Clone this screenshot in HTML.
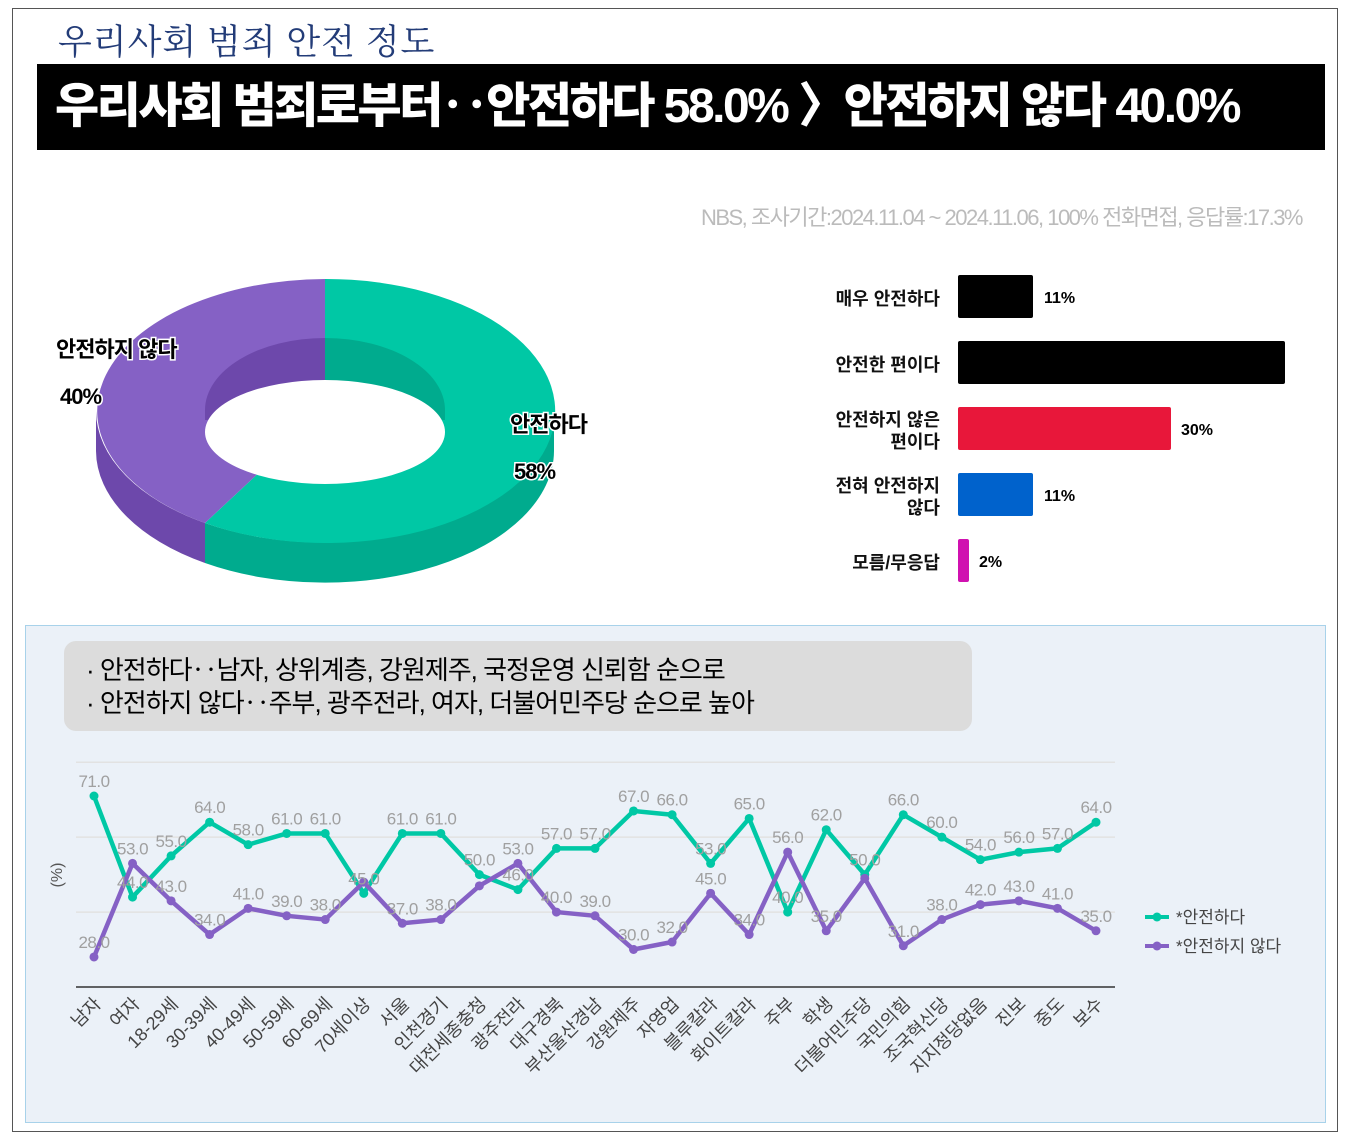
<!DOCTYPE html>
<html><head><meta charset="utf-8"><style>
body{margin:0;width:1350px;height:1138px;background:#fff;position:relative;overflow:hidden;font-family:"Liberation Sans","Noto Sans CJK KR",sans-serif}
.frame{position:absolute;left:12px;top:8px;width:1326px;height:1124px;border:1px solid #555;box-sizing:border-box}
.t1{position:absolute;left:58px;top:15px;font-family:"Liberation Serif","Noto Serif CJK SC",serif;font-size:35px;color:#233c78;letter-spacing:1px}
.hdr{position:absolute;left:37px;top:64px;width:1288px;height:86px;background:#000;color:#fff;font-size:48px;font-weight:900;line-height:86px;padding-left:18px;box-sizing:border-box;letter-spacing:-2.5px;white-space:nowrap}
.src{position:absolute;right:48px;top:200px;color:#bbb;font-size:22px;letter-spacing:-1.5px}
.bl{position:absolute;right:410px;font-size:18px;color:#111;text-align:right;line-height:22px;font-weight:bold}
.bar{position:absolute;left:958px;height:43px;border-radius:2px}
.bv{position:absolute;font-size:16px;font-weight:bold}
.panel{position:absolute;left:25px;top:625px;width:1301px;height:498px;background:#ebf1f8;border:1px solid #a8d2ea;box-sizing:border-box}
.note{position:absolute;left:64px;top:641px;width:908px;height:90px;background:#dcdcdc;border-radius:12px;font-size:26px;line-height:33px;padding:13px 0 0 22px;box-sizing:border-box;letter-spacing:-1px}
</style></head><body>
<div class="frame"></div>
<div class="t1">우리사회 범죄 안전 정도</div>
<div class="hdr">우리사회 범죄로부터‥안전하다 58.0% 〉안전하지 않다 40.0%</div>
<div class="src">NBS, 조사기간:2024.11.04 ~ 2024.11.06, 100% 전화면접, 응답률:17.3%</div>

<svg style="position:absolute;left:0;top:0" width="700" height="620">
<path d="M96 411 L96 451 A229 132 0 0 0 205 563 L205 523 A229 132 0 0 1 96 411Z" fill="#6d48ab"/>
<path d="M205 523 L205 563 A229 132 0 0 0 554 451 L554 411 A229 132 0 0 1 205 523Z" fill="#00ab8e"/>
<path d="M325 411 L325 279 A229 132 0 1 1 205 523Z" fill="#00c8a5"/>
<path d="M325 411 L205 523 A229 132 0 0 1 325 279Z" fill="#8561c5"/>
<path d="M325 338 A120 72 0 0 1 445 410 L445 420 L325 420Z" fill="#00ab8e"/>
<path d="M325 338 A120 72 0 0 0 205 410 L205 420 L325 420Z" fill="#6d48ab"/>
<ellipse cx="325" cy="432" rx="120" ry="52" fill="#fff"/>
<g font-size="22" font-weight="bold" fill="#000" stroke="#fff" stroke-width="3" paint-order="stroke" letter-spacing="-1">
<text x="56" y="357">안전하지 않다</text><text x="60" y="404">40%</text>
<text x="510" y="432">안전하다</text><text x="514" y="479">58%</text></g>
</svg>

<div class="bl" style="top:288px">매우 안전하다</div>
<div class="bl" style="top:354px">안전한 편이다</div>
<div class="bl" style="top:409px">안전하지 않은<br>편이다</div>
<div class="bl" style="top:475px">전혀 안전하지<br>않다</div>
<div class="bl" style="top:552px">모름/무응답</div>
<div class="bar" style="top:275px;width:75px;background:#000"></div>
<div class="bar" style="top:341px;width:327px;background:#000"></div>
<div class="bar" style="top:407px;width:213px;background:#e8173a"></div>
<div class="bar" style="top:473px;width:75px;background:#0062cc"></div>
<div class="bar" style="top:539px;width:11px;background:#d011b0"></div>
<div class="bv" style="left:1044px;top:290px">11%</div>
<div class="bv" style="left:1181px;top:422px">30%</div>
<div class="bv" style="left:1044px;top:488px">11%</div>
<div class="bv" style="left:979px;top:554px">2%</div>

<div class="panel"></div>
<div class="note">· 안전하다‥남자, 상위계층, 강원제주, 국정운영 신뢰함 순으로<br>· 안전하지 않다‥주부, 광주전라, 여자, 더불어민주당 순으로 높아</div>

<svg style="position:absolute;left:0;top:0" width="1350" height="1138" id="lc"></svg>
<script>
var cats=["남자","여자","18-29세","30-39세","40-49세","50-59세","60-69세","70세이상","서울","인천경기","대전세종충청","광주전라","대구경북","부산울산경남","강원제주","자영업","블루칼라","화이트칼라","주부","학생","더불어민주당","국민의힘","조국혁신당","지지정당없음","진보","중도","보수"];
var g=[71,44,55,64,58,61,61,45,61,61,50,46,57,57,67,66,53,65,40,62,50,66,60,54,56,57,64];
var p=[28,53,43,34,41,39,38,48,37,38,47,53,40,39,30,32,45,34,56,35,49,31,38,42,43,41,35];
var pl=[1,1,1,1,1,1,1,0,1,1,0,1,1,1,1,1,1,1,1,1,0,1,1,1,1,1,1];
function X(i){return 94+i*1002/26}function Y(v){return 796+(71-v)*3.744}
var s='';
[80,60,40].forEach(function(v){s+='<line x1="76" x2="1115" y1="'+Y(v)+'" y2="'+Y(v)+'" stroke="#e2e2e2" stroke-width="1.5"/>'});
s+='<line x1="76" x2="1115" y1="987" y2="987" stroke="#333" stroke-width="1.5"/>';
s+='<text transform="translate(62,875) rotate(-90)" font-size="16" fill="#555" text-anchor="middle">(%)</text>';
function line(d,c){var pts=d.map(function(v,i){return X(i)+','+Y(v)}).join(' ');s+='<polyline points="'+pts+'" fill="none" stroke="'+c+'" stroke-width="4.5" stroke-linejoin="round"/>';d.forEach(function(v,i){s+='<circle cx="'+X(i)+'" cy="'+Y(v)+'" r="4.5" fill="'+c+'"/>'})}
line(g,"#00c8a5");line(p,"#8561c5");
function lab(d,f){d.forEach(function(v,i){if(f&&!f[i])return;s+='<text x="'+X(i)+'" y="'+(Y(v)-9)+'" font-size="17" fill="#a0a0a0" text-anchor="middle" letter-spacing="-0.5">'+v.toFixed(1)+'</text>'})}
lab(g);lab(p,pl);
cats.forEach(function(c,i){s+='<text transform="translate('+(X(i)+8)+',1005) rotate(-45)" font-size="18" fill="#444" text-anchor="end">'+c+'</text>'});
s+='<line x1="1145" x2="1169" y1="917" y2="917" stroke="#00c8a5" stroke-width="4"/><circle cx="1157" cy="917" r="4.5" fill="#00c8a5"/><text x="1176" y="923" font-size="17" fill="#444">*안전하다</text>';
s+='<line x1="1145" x2="1169" y1="946" y2="946" stroke="#8561c5" stroke-width="4"/><circle cx="1157" cy="946" r="4.5" fill="#8561c5"/><text x="1176" y="952" font-size="17" fill="#444">*안전하지 않다</text>';
document.getElementById('lc').innerHTML=s;
</script>
</body></html>
